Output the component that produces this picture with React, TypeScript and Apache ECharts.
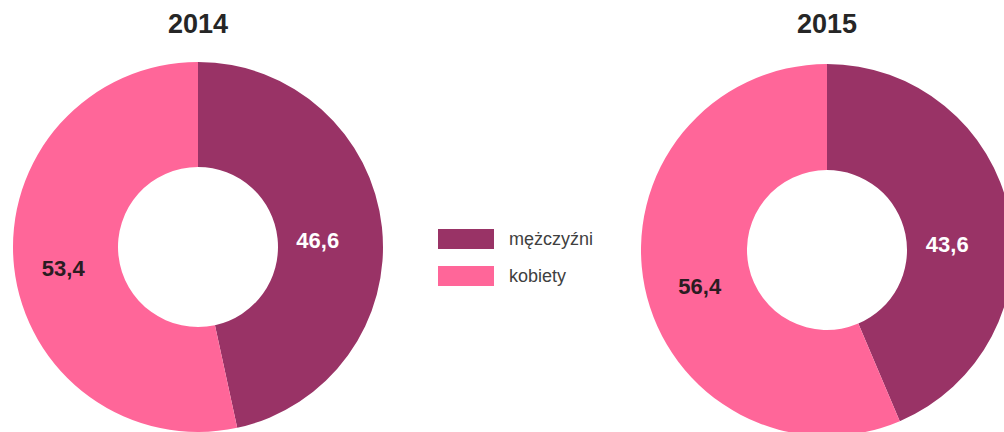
import React, { useEffect, useRef } from "react";
import * as echarts from "echarts";

const categories = ["mężczyźni", "kobiety"];
const years = ["2014", "2015"];
const values2014 = [46.6, 53.4];
const values2015 = [43.6, 56.4];

const COLORS = ["#993366", "#FF6699"];
const LABEL_COLORS = ["#ffffff", "#2a1c22"];
const FONT = "'Liberation Sans', Arial, sans-serif";
// small label nudges [series][dataIndex] = [dx, dy]
const LABEL_NUDGE = [
  [[-15, 8], [0, 7]],
  [[-13, 22], [6, 9]],
];

function buildData(vals: number[]) {
  return vals.map((v, i) => ({
    name: categories[i],
    value: v,
    itemStyle: { color: COLORS[i] },
    label: { color: LABEL_COLORS[i] },
  }));
}

export default function App() {
  const ref = useRef<HTMLDivElement>(null);
  useEffect(() => {
    document.body.style.margin = "0";
    const chart = echarts.init(ref.current!, null, { renderer: "svg" });
    const fmt = (p: any) => String(p.value).replace(".", ",");
    const pieBase = {
      type: "pie",
      startAngle: 90,
      clockwise: true,
      label: {
        show: true,
        position: "inside",
        formatter: fmt,
        fontFamily: FONT,
        fontWeight: "bold",
        fontSize: 22,
      },
      labelLine: { show: false },
      labelLayout: (p: any) => {
        const n = LABEL_NUDGE[p.seriesIndex]?.[p.dataIndex] || [0, 0];
        return { dx: n[0], dy: n[1] };
      },
      emphasis: { disabled: true },
      itemStyle: { borderWidth: 0 },
    };
    const titleStyle = { fontFamily: FONT, fontWeight: "bold", fontSize: 27, color: "#262626" };
    chart.setOption({
      animation: false,
      backgroundColor: "#ffffff",
      title: [
        { text: years[0], left: 198, top: 10, textAlign: "center", padding: 0, textStyle: titleStyle },
        { text: years[1], left: 827, top: 10, textAlign: "center", padding: 0, textStyle: titleStyle },
      ],
      legend: {
        orient: "vertical",
        left: 438,
        top: 229,
        padding: 0,
        itemWidth: 56,
        itemHeight: 20,
        itemGap: 17,
        icon: "rect",
        data: categories,
        textStyle: { fontFamily: FONT, fontSize: 18, color: "#404040", padding: [0, 0, 0, 10] },
        selectedMode: false,
      },
      series: [
        { ...pieBase, name: years[0], center: [198, 247], radius: [80, 185], data: buildData(values2014) },
        { ...pieBase, name: years[1], center: [827, 250], radius: [80, 186], data: buildData(values2015) },
      ],
    });
    return () => chart.dispose();
  }, []);
  return <div ref={ref} style={{ width: 1004, height: 432 }} />;
}
